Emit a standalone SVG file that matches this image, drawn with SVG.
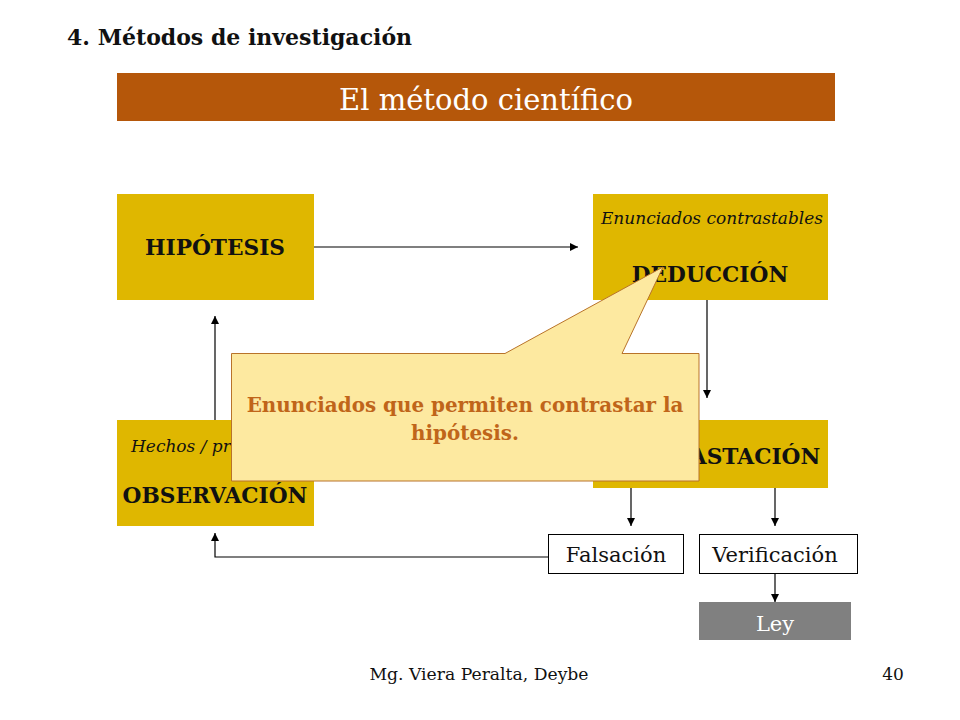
<svg xmlns="http://www.w3.org/2000/svg" width="960" height="720" viewBox="0 0 960 720">
<style>
text{font-family:"DejaVu Serif","Liberation Serif",serif;}
.box{fill:#DFB700;}
.lbl{font-weight:bold;font-size:21.7px;fill:#111;text-anchor:middle;}
.sub{font-style:italic;font-size:17px;fill:#111;}
.wbox{fill:#fff;stroke:#000;stroke-width:1;}
.wt{font-size:21px;fill:#111;text-anchor:middle;}
.con{fill:none;stroke:#000;stroke-width:1.2;}
</style>
<defs>
<marker id="ah" viewBox="0 0 10 10" refX="10" refY="5" markerWidth="8" markerHeight="8" markerUnits="userSpaceOnUse" orient="auto">
<path d="M0,0 L10,5 L0,10 z" fill="#000"/>
</marker>
</defs>
<rect width="960" height="720" fill="#fff"/>
<text x="67" y="45" font-size="22" font-weight="bold" fill="#111">4. Métodos de investigación</text>
<g id="banner">
<rect x="117" y="73" width="718" height="48" fill="#B5570A"/>
<text x="486" y="110" font-size="29" fill="#fff" text-anchor="middle">El método científico</text>
</g>
<g id="connectors">
<path class="con" d="M314,247 H578" marker-end="url(#ah)"/>
<path class="con" d="M215,420 V316" marker-end="url(#ah)"/>
<path class="con" d="M707,300 V398" marker-end="url(#ah)"/>
<path class="con" d="M631,488 V526" marker-end="url(#ah)"/>
<path class="con" d="M775,488 V526" marker-end="url(#ah)"/>
<path class="con" d="M548,557 H215 V533" marker-end="url(#ah)"/>
<path class="con" d="M775,573 V602" marker-end="url(#ah)"/>
</g>
<g id="hipotesis">
<rect class="box" x="117" y="194" width="197" height="106"/>
<text class="lbl" x="215" y="255">HIPÓTESIS</text>
</g>
<g id="deduccion">
<rect class="box" x="593" y="194" width="235" height="106"/>
<text class="sub" x="712" y="224" text-anchor="middle">Enunciados contrastables</text>
<text class="lbl" x="710" y="282">DEDUCCIÓN</text>
</g>
<g id="observacion">
<rect class="box" x="117" y="420" width="197" height="106"/>
<text class="sub" x="131" y="452">Hechos / problemas</text>
<text class="lbl" x="215" y="503">OBSERVACIÓN</text>
</g>
<g id="contrastacion">
<rect class="box" x="593" y="420" width="235" height="68"/>
<text class="lbl" x="710" y="464">CONTRASTACIÓN</text>
</g>
<g id="falsacion">
<rect class="wbox" x="548.5" y="534.5" width="135" height="39"/>
<text class="wt" x="616" y="562">Falsación</text>
</g>
<g id="verificacion">
<rect class="wbox" x="699.5" y="534.5" width="158" height="39"/>
<text class="wt" x="775" y="562">Verificación</text>
</g>
<g id="ley">
<rect x="699" y="602" width="152" height="38" fill="#808080"/>
<text x="775" y="631" font-size="21" fill="#fff" text-anchor="middle">Ley</text>
</g>
<g id="callout">
<path d="M231.5,353.5 H505 L663,267 L622,353.5 H699 V481 H231.5 Z" fill="#FDE9A0" stroke="#B8732A" stroke-width="1"/>
<text x="465" y="412" font-size="19.9" font-weight="bold" fill="#C0651A" text-anchor="middle">Enunciados que permiten contrastar la</text>
<text x="465" y="440" font-size="19.9" font-weight="bold" fill="#C0651A" text-anchor="middle">hipótesis.</text>
</g>
<text x="479" y="680" font-size="17.2" fill="#111" text-anchor="middle">Mg. Viera Peralta, Deybe</text>
<text x="893" y="680" font-size="17" fill="#111" text-anchor="middle">40</text>
</svg>
